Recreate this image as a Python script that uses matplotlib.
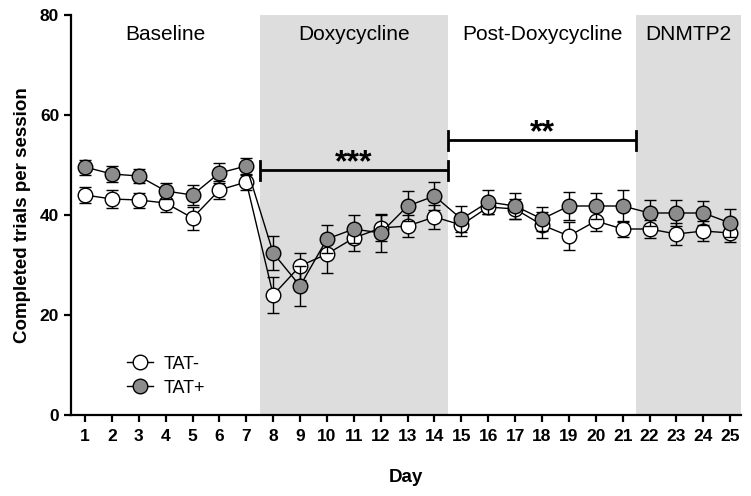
import matplotlib
matplotlib.use("Agg")
import matplotlib.pyplot as plt
from matplotlib.lines import Line2D

plt.rcParams['font.family'] = ['Liberation Sans', 'DejaVu Sans']

days = list(range(1, 26))
tat_minus = [44.0, 43.2, 43.0, 42.4, 39.4, 45.0, 46.6, 24.0, 29.8, 32.2, 35.4, 37.4, 37.8,
             39.6, 38.0, 41.6, 41.2, 38.0, 35.8, 38.8, 37.2, 37.2, 36.2, 36.8, 36.4]
tat_minus_err = [1.6, 1.8, 1.5, 1.7, 2.3, 1.8, 1.6, 3.6, 2.7, 3.8, 2.6, 2.6, 2.2,
                 2.4, 2.2, 1.4, 2.0, 2.6, 2.8, 2.0, 1.6, 1.8, 2.2, 2.0, 1.8]
tat_plus = [49.6, 48.2, 47.8, 44.8, 44.0, 48.4, 49.8, 32.4, 25.8, 35.2, 37.2, 36.4, 41.8,
            43.8, 39.2, 42.6, 41.8, 39.2, 41.8, 41.8, 41.8, 40.4, 40.4, 40.4, 38.4]
tat_plus_err = [1.5, 1.6, 1.4, 1.6, 2.0, 2.0, 1.7, 3.4, 4.0, 2.8, 2.8, 3.8, 3.0,
                2.8, 2.6, 2.4, 2.6, 2.4, 2.8, 2.6, 3.2, 2.6, 2.6, 2.4, 2.8]

phases = ["Baseline", "Doxycycline", "Post-Doxycycline", "DNMTP2"]
phase_centers = [4, 11, 18, 23.45]
shaded = [(7.5, 14.5), (21.5, 25.4)]
sig_bars = [(7.5, 14.5, 49.0, "***"), (14.5, 21.5, 55.0, "**")]

fig = plt.figure(figsize=(7.51, 4.96), dpi=100)
ax = fig.add_axes([71/751, 81/496, 670/751, 400/496])

for a, b in shaded:
    ax.axvspan(a, b, color='#dddddd', lw=0, zorder=0)

ax.errorbar(days, tat_minus, yerr=tat_minus_err, fmt='-o', color='black', mfc='white',
            mec='black', ms=10.5, mew=1.0, lw=1.0, elinewidth=1.0, capsize=4.5, capthick=1.0,
            zorder=3)
ax.errorbar(days, tat_plus, yerr=tat_plus_err, fmt='-o', color='black', mfc='#8c8c8c',
            mec='black', ms=10.5, mew=1.0, lw=1.0, elinewidth=1.0, capsize=4.5, capthick=1.0,
            zorder=4)

for x0, x1, y, stars in sig_bars:
    ax.plot([x0, x1], [y, y], color='black', lw=2, zorder=5, solid_capstyle='butt')
    ax.plot([x0, x0], [y - 1.9, y + 1.9], color='black', lw=2, zorder=5)
    ax.plot([x1, x1], [y - 1.9, y + 1.9], color='black', lw=2, zorder=5)
    ax.text((x0 + x1) / 2, y - 0.3, stars, ha='center', va='baseline', fontsize=23,
            fontweight='bold', zorder=5)

for name, cx in zip(phases, phase_centers):
    ax.text(cx, 76, name, ha='center', va='center', fontsize=15)

ax.set_xlim(0.48, 25.4)
ax.set_ylim(0, 80)
ax.set_xticks(days)
ax.set_yticks([0, 20, 40, 60, 80])
for s in ['top', 'right']:
    ax.spines[s].set_visible(False)
for s in ['left', 'bottom']:
    ax.spines[s].set_linewidth(1.6)
ax.tick_params(axis='both', width=1.6, length=5, labelsize=12.5)
ax.tick_params(axis='x', pad=5)
for lbl in ax.get_xticklabels() + ax.get_yticklabels():
    lbl.set_fontweight('bold')
ax.set_xlabel('Day', fontsize=13.5, fontweight='bold', labelpad=18)
ax.set_ylabel('Completed trials per session', fontsize=13.5, fontweight='bold', labelpad=6)

handles = [Line2D([], [], color='black', lw=1.0, marker='o', ms=10.5, mfc='white', mec='black'),
           Line2D([], [], color='black', lw=1.0, marker='o', ms=10.5, mfc='#8c8c8c', mec='black')]
ax.legend(handles, ['TAT-', 'TAT+'], loc='lower left', bbox_to_anchor=(0.06, 0.005),
          frameon=False, fontsize=13, handlelength=1.4, handletextpad=0.6, labelspacing=0.4)

fig.savefig('out.png', dpi=100)
